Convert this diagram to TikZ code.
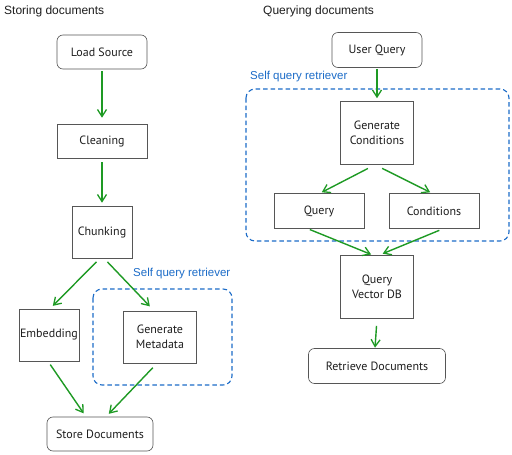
\documentclass[tikz,border=0pt]{standalone}
\usepackage{fontspec}
\setmainfont{Liberation Sans}
\newfontfamily\boxfont{PT Sans}
\usetikzlibrary{arrows.meta}
\definecolor{flowgreen}{HTML}{1E9A24}
\definecolor{groupblue}{HTML}{1C6CC8}
\definecolor{inkdark}{HTML}{1E1E1E}
\tikzset{
  x=1pt,y=-1pt,
  box/.style={draw=inkdark!75,line width=0.6pt,fill=white,align=center,inner sep=2pt,
    font=\boxfont\fontsize{12}{15}\selectfont,text=inkdark},
  rbox/.style={box,rounded corners=6pt},
  flow/.style={draw=flowgreen,line width=1.4pt,-{Straight Barb[length=7pt,width=9pt,line width=1.3pt]}},
  group/.style={draw=groupblue,line width=1.1pt,dash pattern=on 4.5pt off 3pt,rounded corners=9pt},
  grouplabel/.style={text=groupblue,font=\fontsize{11.5}{13}\selectfont,anchor=west,inner sep=0pt},
  title/.style={text=inkdark,font=\fontsize{12}{14}\selectfont,anchor=west,inner sep=0pt}
}
\begin{document}
\begin{tikzpicture}
\useasboundingbox[fill=white] (0,0) rectangle (512,455);
% titles
\node[title] (t1) at (4,11) {Storing documents};
\node[title] (t2) at (263,11) {Querying documents};
% group frames
\draw[group] (93,289) rectangle (232,385);
\draw[group] (246,89) rectangle (509,241);
\node[grouplabel] (g1) at (133,274) {Self query retriever};
\node[grouplabel] (g2) at (250,77) {Self query retriever};
% left column
\node[rbox,minimum width=90pt,minimum height=34pt] (load) at (102,52) {Load Source};
\node[box,minimum width=90pt,minimum height=34pt] (clean) at (102,141) {Cleaning};
\node[box,minimum width=60pt,minimum height=52pt] (chunk) at (102,232) {Chunking};
\node[box,minimum width=60pt,minimum height=52pt,inner sep=1pt] (embed) at (49,335) {Embedding};
\node[box,minimum width=73pt,minimum height=52pt] (meta) at (160,337) {Generate\\Metadata};
\node[rbox,minimum width=106pt,minimum height=34pt] (store) at (100,434) {Store Documents};
% right column
\node[rbox,minimum width=90pt,minimum height=35pt] (user) at (377,50) {User Query};
\node[box,minimum width=73pt,minimum height=63pt] (gen) at (377,133) {Generate\\Conditions};
\node[box,minimum width=90pt,minimum height=35pt] (query) at (319,211) {Query};
\node[box,minimum width=90pt,minimum height=35pt] (cond) at (434,211) {Conditions};
\node[box,minimum width=73pt,minimum height=63pt] (qvdb) at (377,287) {Query\\Vector DB};
\node[rbox,minimum width=137pt,minimum height=35pt] (retr) at (377,366) {Retrieve Documents};
% left connectors
\draw[flow,shorten <=2pt,shorten >=6pt] (load.south) -- (clean.north);
\draw[flow,shorten <=4pt,shorten >=3pt] (clean.south) -- (chunk.north);
\draw[flow,shorten <=5pt,shorten >=4pt] ([xshift=-2pt]chunk.south) -- ([xshift=1pt]embed.north);
\draw[flow,shorten <=5pt,shorten >=6pt] ([xshift=2pt]chunk.south) -- ([xshift=-6pt]meta.north);
\draw[flow,shorten <=4pt,shorten >=4pt] ([xshift=-1pt]embed.south) -- ([xshift=-14pt]store.north);
\draw[flow,shorten <=6pt,shorten >=4pt] ([xshift=-3pt]meta.south) -- ([xshift=6pt]store.north);
% right connectors
\draw[flow,shorten <=1pt,shorten >=3pt] (user.south) -- (gen.north);
\draw[flow,shorten <=8pt,shorten >=2pt] ([xshift=-2pt]gen.south) -- ([xshift=1pt]query.north);
\draw[flow,shorten <=8pt,shorten >=2pt] ([xshift=-2pt]gen.south) -- ([xshift=-2pt]cond.north);
\draw[flow,shorten <=2pt,shorten >=2pt] ([xshift=-11pt]query.south) -- ([xshift=-4pt]qvdb.north);
\draw[flow,shorten <=4pt,shorten >=4pt] ([xshift=9pt]cond.south) -- ([xshift=2pt]qvdb.north);
\draw[flow,shorten <=7pt,shorten >=0.5pt] (qvdb.south) -- ([xshift=-2pt]retr.north);
\end{tikzpicture}
\end{document}
